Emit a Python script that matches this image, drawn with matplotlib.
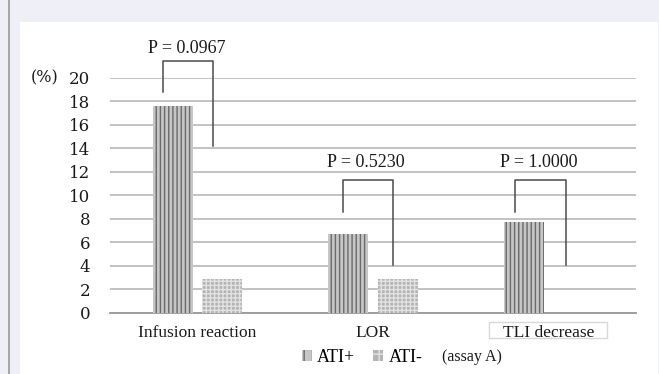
import numpy as np
import matplotlib
matplotlib.use("Agg")
import matplotlib.pyplot as plt
from matplotlib.patches import Patch, Rectangle

# Data
categories = ["Infusion reaction", "LOR", "TLI decrease"]
ati_pos = [17.6, 6.7, 7.7]
ati_neg = [2.9, 2.9, 0.0]
yticks = list(range(0, 21, 2))

# P-value brackets: label, top, left leg bottom, right leg bottom
p_labels = ["P = 0.0967", "P = 0.5230", "P = 1.0000"]
br_top = [21.4, 11.3, 11.3]
br_left_bot = [18.8, 8.6, 8.6]
br_right_bot = [14.2, 4.05, 4.05]
p_text_y = [22.5, 12.75, 12.75]

serif = ["Liberation Serif", "DejaVu Serif"]
plt.rcParams["hatch.linewidth"] = 1.0

fig = plt.figure(figsize=(6.59, 3.74), dpi=100, facecolor="#eff0f7")
# white panel + thin left rule like the screenshot
fig.patches.append(Rectangle((20 / 659, 0), 638 / 659, 352 / 374,
                             transform=fig.transFigure, facecolor="white",
                             edgecolor="none", zorder=-5))
fig.lines.append(plt.Line2D([8.5 / 659, 8.5 / 659], [0, 1], transform=fig.transFigure,
                            color="#9a9a9a", lw=1.2, zorder=-4))

ax = fig.add_axes([110 / 659, (374 - 312.7) / 374, 526 / 659, 235 / 374])
ax.set_zorder(2)
ax.set_facecolor("none")
x = np.arange(len(categories))
w = 0.228
off = 0.14

ax.bar(x - off, ati_pos, w, facecolor="#c6c6c6", edgecolor="#6a6a6a",
       hatch="||||", linewidth=0, zorder=3)
ax.bar(x + off, ati_neg, w, facecolor="#b4b4b4", edgecolor="#e2e2e2",
       hatch="++++", linewidth=0, zorder=3)

ax.set_xlim(-0.5, 2.5)
ax.set_ylim(0, 20)
ax.set_yticks(yticks)
ax.set_yticklabels([str(t) for t in yticks], family="DejaVu Serif", fontsize=12,
                   color="#1a1a1a")
ax.yaxis.grid(True, color="#bdbdbd", lw=1.3, zorder=0)
ax.set_axisbelow(True)
ax.tick_params(axis="y", length=0, pad=14)
ax.tick_params(axis="x", length=0, pad=9)
ax.set_xticks(x)
ax.set_xticklabels(categories, family=serif, fontsize=12.5, color="#1a1a1a")
for s in ["top", "right", "left"]:
    ax.spines[s].set_visible(False)
ax.spines["bottom"].set_color("#9a9a9a")
ax.spines["bottom"].set_linewidth(1.3)

# faint label box around "TLI decrease"
ax.add_patch(Rectangle((1.662, -0.79), 0.673, -1.36, transform=ax.transData,
                       fill=False, edgecolor="#d8d8d8", lw=1.0, clip_on=False))

# brackets
legs = [(-0.198, 0.088), (-0.171, 0.114), (-0.19, 0.10)]
for i, (lab, top, lb, rb) in enumerate(zip(p_labels, br_top, br_left_bot, br_right_bot)):
    l, r = i + legs[i][0], i + legs[i][1]
    ax.plot([l, l, r, r], [lb, top, top, rb], color="#4a4a4a", lw=1.1,
            clip_on=False, zorder=4)
    ax.text((l + r) / 2 - 0.01, p_text_y[i], lab, ha="center", va="center",
            family=serif, fontsize=13, color="#1a1a1a")

fig.text(45 / 659, (374 - 78) / 374, "(%)", ha="center", va="center",
         family="DejaVu Serif", fontsize=11.5, color="#1a1a1a")

handles = [Patch(facecolor="#c6c6c6", edgecolor="#6a6a6a", hatch="||", lw=0),
           Patch(facecolor="#b4b4b4", edgecolor="#e2e2e2", hatch="++", lw=0)]
fig.legend(handles, ["ATI+", "ATI-"], loc="center", ncol=2, frameon=False,
           bbox_to_anchor=(362 / 659, (374 - 357) / 374),
           handlelength=0.55, handleheight=0.55, handletextpad=0.3, columnspacing=1.0,
           prop={"family": serif, "size": 13})
fig.text(472 / 659, (374 - 357) / 374, "(assay A)", ha="center", va="center",
         family=serif, fontsize=11.5, color="#1a1a1a")

fig.savefig("out.png", dpi=100, facecolor=fig.get_facecolor())
